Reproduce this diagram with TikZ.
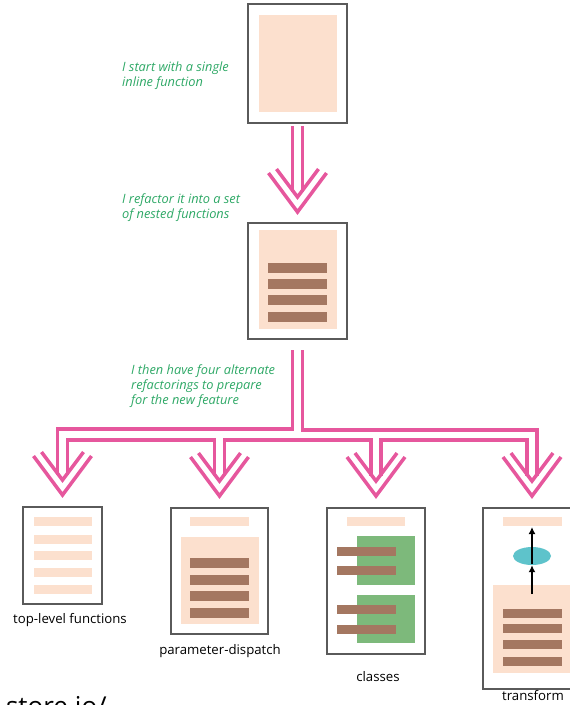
\documentclass[tikz,border=0pt]{standalone}
\usepackage{fontspec}
\setmainfont{Open Sans}
\usetikzlibrary{calc,shapes.geometric,arrows.meta}

\definecolor{pinkarrow}{HTML}{E6579D}
\definecolor{notegreen}{HTML}{2EA866}
\definecolor{peach}{HTML}{FCE0CE}
\definecolor{barbrown}{HTML}{A47761}
\definecolor{blockgreen}{HTML}{7DB97B}
\definecolor{blobteal}{HTML}{5EC3CB}
\definecolor{boxgray}{HTML}{5A5A5A}

% double-line arrow head, tip at #1
\newcommand{\pinkhead}[1]{%
  \draw[arrow_pink] ($(#1)+(-29,-39)$) -- (#1) -- ($(#1)+(29,-39)$);
  \draw[arrow_pink] ($(#1)+(-21,-43)$) -- ($(#1)+(0,-15)$) -- ($(#1)+(21,-43)$);}

\begin{document}
\begin{tikzpicture}[x=1pt, y=-1pt]
    \tikzstyle{box_style} = [draw=boxgray, line width=1.6, inner sep=0, outer sep=0]
    \tikzstyle{arrow_pink} = [pinkarrow, line width=3.5]
    \tikzstyle{arrow_black} = [-{Latex[length=7pt,width=7pt]}, black, line width=2.2]
    \tikzstyle{note_style} = [text=notegreen, font=\itshape\fontsize{12.8}{15}\selectfont, align=left, inner sep=0, anchor=west]
    \tikzstyle{caption_style} = [font=\fontsize{13.2}{15}\selectfont, inner sep=0]
    \tikzstyle{peach_fill} = [fill=peach]
    \tikzstyle{bar_fill} = [fill=barbrown]
    \tikzstyle{block_fill} = [fill=blockgreen]

    \useasboundingbox (0,0) rectangle (570,705);
    \clip (0,0) rectangle (570,705);

    % boxes
    \node[box_style, minimum width=99pt, minimum height=119pt] (inline) at (297.5,63.5) {};
    \node[box_style, minimum width=99pt, minimum height=116pt] (nested) at (297.5,281) {};
    \node[box_style, minimum width=79pt, minimum height=97pt] (toplevel) at (62.5,555.5) {};
    \node[box_style, minimum width=97pt, minimum height=126pt] (dispatch) at (219.5,571) {};
    \node[box_style, minimum width=98pt, minimum height=146pt] (classes) at (376,581) {};
    \node[box_style, minimum width=98pt, minimum height=181pt] (transform) at (532,598.5) {};

    % box contents
    \fill[peach_fill] (259,15) rectangle (337,112);

    \fill[peach_fill] (259,230) rectangle (337,329);
    \foreach \y in {268,284,300,317}
        \fill[bar_fill] (268,\y-5) rectangle (327,\y+5);

    \foreach \y in {521,539,555,572,589}
        \fill[peach_fill] (34,\y-4.5) rectangle (92,\y+4.5);

    \fill[peach_fill] (190,517) rectangle (249,526);
    \fill[peach_fill] (181,537) rectangle (259,624);
    \foreach \y in {563,580,596,613}
        \fill[bar_fill] (190,\y-5) rectangle (249,\y+5);

    \fill[peach_fill] (347,517) rectangle (405,526);
    \fill[block_fill] (357,536) rectangle (415,585);
    \fill[block_fill] (357,595) rectangle (415,643);
    \foreach \y in {551,570,609,629}
        \fill[bar_fill] (337,\y-4.5) rectangle (396,\y+4.5);

    \fill[peach_fill] (503,517) rectangle (562,526);
    \fill[peach_fill] (493,585) rectangle (571,673);
    \foreach \y in {613,628,644,661}
        \fill[bar_fill] (503,\y-4.5) rectangle (562,\y+4.5);
    \node[ellipse, fill=blobteal, minimum width=38pt, minimum height=18pt, inner sep=0] (blob) at (532,556) {};
    \coordinate (outtop) at (532,527);
    \coordinate (inbottom) at (532,594);
    \draw[arrow_black] (inbottom) -- (blob.south);
    \draw[arrow_black] ($(blob.center)+(0,8)$) -- (outtop);

    % notes and captions
    \node[note_style] (note1) at (122,75.5) {I start with a single\\inline function};
    \node[note_style] (note2) at (122,208) {I refactor it into a set\\of nested functions};
    \node[note_style] (note3) at (131,386) {I then have four alternate\\refactorings to prepare\\for the new feature};

    \node[caption_style] (cap1) at (70,620) {top-level functions};
    \node[caption_style] (cap2) at (220,651) {parameter-dispatch};
    \node[caption_style] (cap3) at (378,677) {classes};
    \node[caption_style] (cap4) at (533,696) {transform};

    \node[font=\fontsize{26}{30}\selectfont, inner sep=0, anchor=base east] (site) at (107,715) {e-store.io/};

    % arrow heads
    \coordinate (tipN) at ($(nested.north)+(0,-11)$);
    \coordinate (tipT) at ($(toplevel.north)+(0,-12)$);
    \coordinate (tipD) at ($(dispatch.north)+(0,-12)$);
    \coordinate (tipC) at ($(classes.north)+(0,-12)$);
    \coordinate (tipX) at ($(transform.north)+(0,-12)$);

    \draw[arrow_pink] ($(inline.south)+(-5,3)$) -- ($(tipN)+(-5,-20)$);
    \draw[arrow_pink] ($(inline.south)+(5,3)$) -- ($(tipN)+(5,-20)$);
    \pinkhead{tipN}

    \draw[arrow_pink] ($(nested.south)+(-5,11)$) |- ($(tipT)+(-5,-66)$) -- ($(tipT)+(-5,-20)$);
    \draw[arrow_pink] ($(nested.south)+(5,11)$) |- ($(tipX)+(5,-66)$) -- ($(tipX)+(5,-20)$);
    \draw[arrow_pink] ($(tipT)+(5,-20)$) |- ($(tipD)+(-5,-56)$) -- ($(tipD)+(-5,-20)$);
    \draw[arrow_pink] ($(tipD)+(5,-20)$) |- ($(tipC)+(-5,-56)$) -- ($(tipC)+(-5,-20)$);
    \draw[arrow_pink] ($(tipC)+(5,-20)$) |- ($(tipX)+(-5,-56)$) -- ($(tipX)+(-5,-20)$);
    \foreach \t in {tipT,tipD,tipC,tipX} {
        \pinkhead{\t}
    }
\end{tikzpicture}
\end{document}
